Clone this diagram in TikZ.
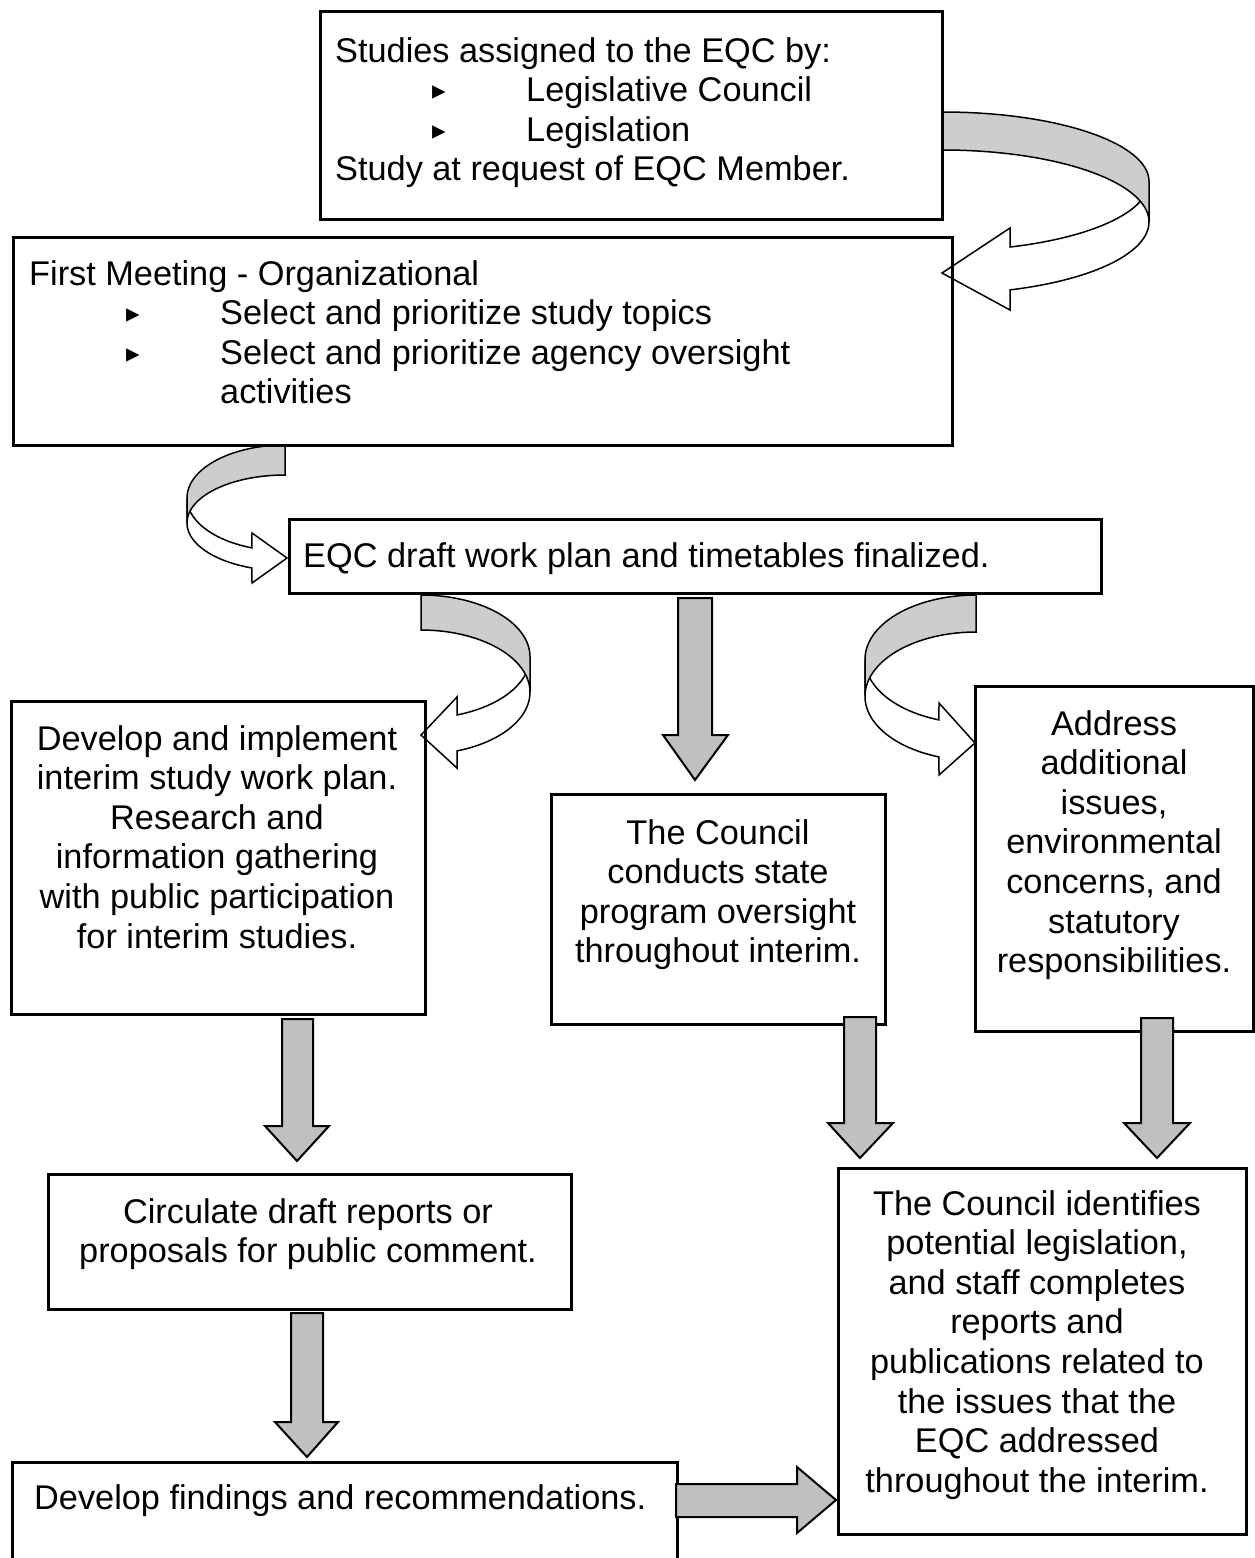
\documentclass[tikz,border=0pt]{standalone}
\usepackage{fontspec}
\setmainfont{Liberation Sans}
\newfontfamily\djv{DejaVu Sans}
\newcommand{\bul}{\raisebox{2pt}{\djv\fontsize{27}{27}\selectfont ▸}}
\newcommand{\ind}[1]{\makebox[191pt][l]{\hspace{97pt}\bul}#1}
\definecolor{arrgray}{HTML}{C0C0C0}
\definecolor{curvegray}{HTML}{CDCDCD}
\begin{document}
\begin{tikzpicture}[x=1pt,y=-1pt,
  box/.style={draw, line width=3pt, rectangle, inner sep=0pt, anchor=north west},
  txt/.style={inner sep=0pt, font=\fontsize{34.3}{39.6}\selectfont},
  blockarrow/.style={draw, line width=2pt, fill=arrgray, line join=miter},
  curvefront/.style={draw, line width=1.5pt, fill=white, line join=miter},
  curveback/.style={draw, line width=1.5pt, fill=curvegray, line join=miter}]
\useasboundingbox (0,0) rectangle (1255,1558);

% ---------- curved arrows (behind boxes) ----------
% C1: box1 -> box2
\path[curvefront] plot[domain=0:71.0,samples=40,variable=\t] ({943+206*cos(\t)},{181.4+69.4*sin(\t)})
  -- (1010,228) -- (942,273) -- (1010,310)
  -- plot[domain=71.0:0,samples=40,variable=\t] ({943+206*cos(\t)},{221.9+71.9*sin(\t)}) -- cycle;
\path[curveback] plot[domain=-90:0,samples=40,variable=\t] ({943+206*cos(\t)},{181.4+69.4*sin(\t)})
  -- plot[domain=0:-90,samples=40,variable=\t] ({943+206*cos(\t)},{221.9+71.9*sin(\t)}) -- cycle;
% C2: box2 -> box3
\path[curvefront] plot[domain=180:109.7,samples=40,variable=\t] ({285+98*cos(\t)},{498+53*sin(\t)})
  -- (252,533) -- (287,558) -- (252,583)
  -- plot[domain=109.7:180,samples=40,variable=\t] ({285+98*cos(\t)},{522.9+47.9*sin(\t)}) -- cycle;
\path[curveback] plot[domain=270:180,samples=40,variable=\t] ({285+98*cos(\t)},{498+53*sin(\t)})
  -- plot[domain=180:270,samples=40,variable=\t] ({285+98*cos(\t)},{522.9+47.9*sin(\t)}) -- cycle;
% C3: box3 -> box4
\path[curvefront] plot[domain=0:70.7,samples=40,variable=\t] ({421+109*cos(\t)},{656.7+61.7*sin(\t)})
  -- (457,697) -- (421,735) -- (457,768)
  -- plot[domain=70.7:0,samples=40,variable=\t] ({421+109*cos(\t)},{692.2+62.2*sin(\t)}) -- cycle;
\path[curveback] plot[domain=-90:0,samples=40,variable=\t] ({421+109*cos(\t)},{656.7+61.7*sin(\t)})
  -- plot[domain=0:-90,samples=40,variable=\t] ({421+109*cos(\t)},{692.2+62.2*sin(\t)}) -- cycle;
% C4: box3 -> box6
\path[curvefront] plot[domain=180:109.5,samples=40,variable=\t] ({976+111*cos(\t)},{659.3+64.3*sin(\t)})
  -- (939,703) -- (975,743) -- (939,775)
  -- plot[domain=109.5:180,samples=40,variable=\t] ({976+111*cos(\t)},{696.3+64.3*sin(\t)}) -- cycle;
\path[curveback] plot[domain=270:180,samples=40,variable=\t] ({976+111*cos(\t)},{659.3+64.3*sin(\t)})
  -- plot[domain=180:270,samples=40,variable=\t] ({976+111*cos(\t)},{696.3+64.3*sin(\t)}) -- cycle;

% ---------- boxes ----------
\node[box, minimum width=622pt, minimum height=208pt] (b1) at (319,10) {};
\node[box, minimum width=939pt, minimum height=208pt] (b2) at (12,236) {};
\node[box, minimum width=812pt, minimum height=74pt] (b3) at (288,518) {};
\node[box, minimum width=414pt, minimum height=313pt] (b4) at (10,700) {};
\node[box, minimum width=334pt, minimum height=230pt] (b5) at (550,793) {};
\node[box, minimum width=278pt, minimum height=345pt] (b6) at (974,685) {};
\node[box, minimum width=523pt, minimum height=135pt] (b7) at (47,1173) {};
\node[box, draw=none, minimum width=662pt, minimum height=96pt] (b8) at (12,1462) {};
\draw[line width=3pt] (b8.south west) -- (b8.north west) -- (b8.north east) -- (b8.south east);
\node[box, minimum width=408pt, minimum height=366pt] (b9) at (837,1167) {};

% ---------- texts ----------
\node[txt, anchor=base west] (t1) at (335,62) {\begin{tabular}[t]{@{}l@{}}Studies assigned to the EQC by:\\ \ind{Legislative Council}\\ \ind{Legislation}\\ Study at request of EQC Member.\end{tabular}};
\node[txt, anchor=base west] (t2) at (29,285) {\begin{tabular}[t]{@{}l@{}}First Meeting - Organizational\\ \ind{Select and prioritize study topics}\\ \ind{Select and prioritize agency oversight}\\ \makebox[191pt][l]{}activities\end{tabular}};
\node[txt, anchor=base west] (t3) at (303,567) {EQC draft work plan and timetables finalized.};
\node[txt, anchor=base] (t4) at (217,750) {\begin{tabular}[t]{@{}c@{}}Develop and implement\\ interim study work plan.\\ Research and\\ information gathering\\ with public participation\\ for interim studies.\end{tabular}};
\node[txt, anchor=base] (t5) at (718,844) {\begin{tabular}[t]{@{}c@{}}The Council\\ conducts state\\ program oversight\\ throughout interim.\end{tabular}};
\node[txt, anchor=base] (t6) at (1114,735) {\begin{tabular}[t]{@{}c@{}}Address\\ additional\\ issues,\\ environmental\\ concerns, and\\ statutory\\ responsibilities.\end{tabular}};
\node[txt, anchor=base] (t7) at (308,1223) {\begin{tabular}[t]{@{}c@{}}Circulate draft reports or\\ proposals for public comment.\end{tabular}};
\node[txt, anchor=base west] (t8) at (34,1509) {Develop findings and recommendations.};
\node[txt, anchor=base] (t9) at (1037,1215) {\begin{tabular}[t]{@{}c@{}}The Council identifies\\ potential legislation,\\ and staff completes\\ reports and\\ publications related to\\ the issues that the\\ EQC addressed\\ throughout the interim.\end{tabular}};

% ---------- straight block arrows ----------
\path[blockarrow] (678,598) -- (712,598) -- (712,735) -- (728,735) -- (695,780) -- (663,735) -- (678,735) -- cycle;
\path[blockarrow] (282,1019) -- (313,1019) -- (313,1126) -- (329,1126) -- (297,1161) -- (265,1126) -- (282,1126) -- cycle;
\path[blockarrow] (291,1313) -- (323,1313) -- (323,1422) -- (338,1422) -- (307,1457) -- (275,1422) -- (291,1422) -- cycle;
\path[blockarrow] (844,1017) -- (876,1017) -- (876,1123) -- (893,1123) -- (860,1158) -- (828,1123) -- (844,1123) -- cycle;
\path[blockarrow] (1141,1018) -- (1173,1018) -- (1173,1123) -- (1190,1123) -- (1157,1158) -- (1124,1123) -- (1141,1123) -- cycle;
\path[blockarrow] (676,1484) -- (797,1484) -- (797,1467) -- (836,1500) -- (797,1533) -- (797,1517) -- (676,1517) -- cycle;
\end{tikzpicture}
\end{document}
